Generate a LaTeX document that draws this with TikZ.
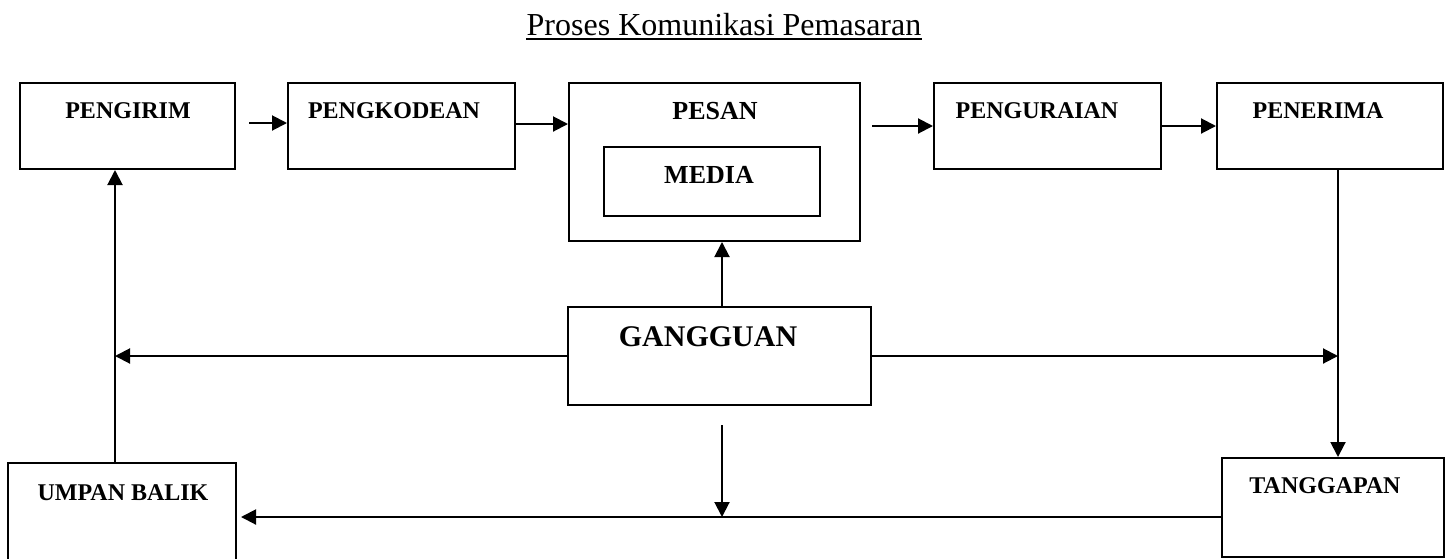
\documentclass[tikz,border=0pt]{standalone}
\usepackage{fontspec}
\setmainfont{Liberation Serif}
\usepackage{xcolor}
\usepackage{tikz}
\usetikzlibrary{arrows.meta, positioning, fit, calc}

\begin{document}
\begin{tikzpicture}[
                x=0.5pt, y=-0.5pt,
                box/.style={rectangle, draw, line width=1pt, inner sep=0pt},
                lbl/.style={anchor=base, inner sep=0pt, font=\fontsize{12}{14}\selectfont\bfseries},
                biglbl/.style={lbl, font=\fontsize{13}{15}\selectfont\bfseries},
                arr/.style={line width=1pt, -{Triangle[length=7.5pt, width=7.5pt]}}
            ]
                \useasboundingbox (0,0) rectangle (1445,558);

                % Title
                \node[anchor=base, inner sep=0pt, font=\fontsize{16}{18}\selectfont] (title) at (724,35) {Proses Komunikasi Pemasaran};
                \draw[line width=1pt] ([yshift=-2.2pt]title.base west) -- ([yshift=-2.2pt]title.base east);

                % Process boxes
                \node[box, fit={(20,83) (235,169)}] (pengirim) {};
                \node[box, fit={(288,83) (515,169)}] (pengkodean) {};
                \node[box, fit={(569,83) (860,241)}] (pesan) {};
                \node[box, fit={(604,147) (820,216)}] (media) {};
                \node[box, fit={(934,83) (1161,169)}] (penguraian) {};
                \node[box, fit={(1217,83) (1443,169)}] (penerima) {};
                \node[box, fit={(568,307) (871,405)}] (gangguan) {};
                \node[box, fit={(8,463) (236,562)}] (umpan) {};
                \node[box, fit={(1222,458) (1444,557)}] (tanggapan) {};

                % Labels
                \node[lbl] (tPengirim) at (128,118) {PENGIRIM};
                \node[lbl] (tPengkodean) at (394,118) {PENGKODEAN};
                \node[biglbl] (tPesan) at (715,119) {PESAN};
                \node[biglbl] (tMedia) at (709,183) {MEDIA};
                \node[lbl] (tPenguraian) at (1037,118) {PENGURAIAN};
                \node[lbl] (tPenerima) at (1318,118) {PENERIMA};
                \node[lbl, font=\fontsize{15}{17}\selectfont\bfseries] (tGangguan) at (708,346) {GANGGUAN};
                \node[lbl] (tUmpan) at (123,500) {UMPAN BALIK};
                \node[lbl] (tTanggapan) at (1325,493) {TANGGAPAN};

                % Helper points
                \coordinate (fb) at ([xshift=-3.5pt]umpan.north);
                \coordinate (resp) at ([xshift=4pt]penerima.south);
                \coordinate (tline) at ([yshift=-4.75pt]tanggapan.west);

                % Edges
                \draw[arr, shorten <=6.5pt] ([yshift=1.5pt]pengirim.east) -- ([yshift=1.5pt]pengkodean.west);
                \draw[arr] ([yshift=1pt]pengkodean.east) -- ([yshift=1pt]pengkodean.east -| pesan.west);
                \draw[arr, shorten <=5.5pt] (pesan.east |- penguraian.west) -- (penguraian.west);
                \draw[arr] (penguraian) -- (penerima);
                \draw[arr] ([xshift=1.25pt]gangguan.north) -- ([xshift=1.25pt]gangguan.north |- pesan.south);
                \draw[arr] (gangguan.west) -- (gangguan.west -| fb);
                \draw[arr] (gangguan.east) -- (gangguan.east -| resp);
                \draw[arr] (resp) -- (resp |- tanggapan.north);
                \draw[arr] (fb) -- (fb |- pengirim.south);
                \draw[arr, shorten >=2pt] (tline) -- (tline -| umpan.east);
                \draw[arr] ([xshift=1.25pt, yshift=-9.5pt]gangguan.south) -- ([xshift=1.25pt]gangguan.south |- tline);
            \end{tikzpicture}
\end{document}
